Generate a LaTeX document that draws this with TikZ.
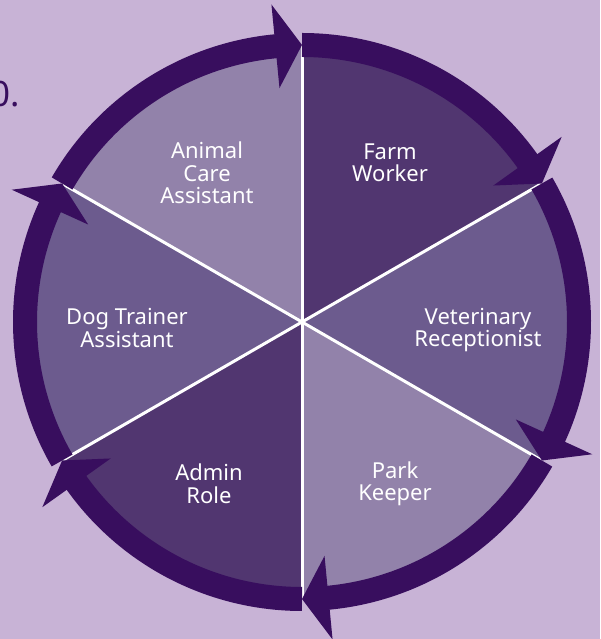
\documentclass[tikz,border=0pt]{standalone}
\usepackage{fontspec}
\setmainfont{Noto Sans}
\usetikzlibrary{calc}
\definecolor{bg}{HTML}{C8B3D6}
\definecolor{ringc}{HTML}{380E5E}
\definecolor{secdark}{HTML}{513670}
\definecolor{secmid}{HTML}{6C5B8E}
\definecolor{seclight}{HTML}{9282AA}
\begin{document}
\begin{tikzpicture}[x=1pt,y=1pt,
  lbl/.style={text=white, align=center, font=\fontsize{22}{22.5}\selectfont},
  sepline/.style={white, line width=3pt},
  ringarc/.style={draw=ringc, line width=24pt},
  tipfill/.style={fill=ringc}]
\fill[bg] (0,0) rectangle (600,639);
\useasboundingbox (0,0) rectangle (600,639);
\coordinate (C) at (302,317);
% sectors
\foreach \a/\c in {90/seclight, 30/secdark, -30/secmid, -90/seclight, 210/secdark, 150/secmid}{
  \fill[\c] (C) -- ($(C)+(\a:277)$) arc[start angle=\a, end angle=\a+60, radius=277] -- cycle;
}
% separators
\foreach \a in {30,90,150,210,270,330}{
  \draw[sepline] (C) -- ($(C)+(\a:277)$);
}
% ring arrows (clockwise)
\foreach \e in {90,30,-30,-90,-150,-210}{
  \draw[ringarc] ($(C)+(\e+60:277)$) arc[start angle=\e+60, end angle=\e+4, radius=277];
  \fill[tipfill] ($(C)+(\e:277)$) -- ($(C)+(\e+5.5:319)$) -- ($(C)+(\e+5.5:235)$) -- cycle;
}
% labels
\node[lbl] (animal) at (207,466) {Animal\\Care\\Assistant};
\node[lbl] (farm) at (390,476) {Farm\\Worker};
\node[lbl] (vet) at (478,309) {Veterinary\\Receptionist};
\node[lbl] (park) at (395,155) {Park\\Keeper};
\node[lbl] (admin) at (209,155) {Admin\\Role};
\node[lbl] (dog) at (127,311) {Dog Trainer\\Assistant};
\node[anchor=base east, text=ringc, font=\fontsize{35}{40}\selectfont, inner sep=0pt] (frag) at (20,532) {0.};
\end{tikzpicture}
\end{document}
